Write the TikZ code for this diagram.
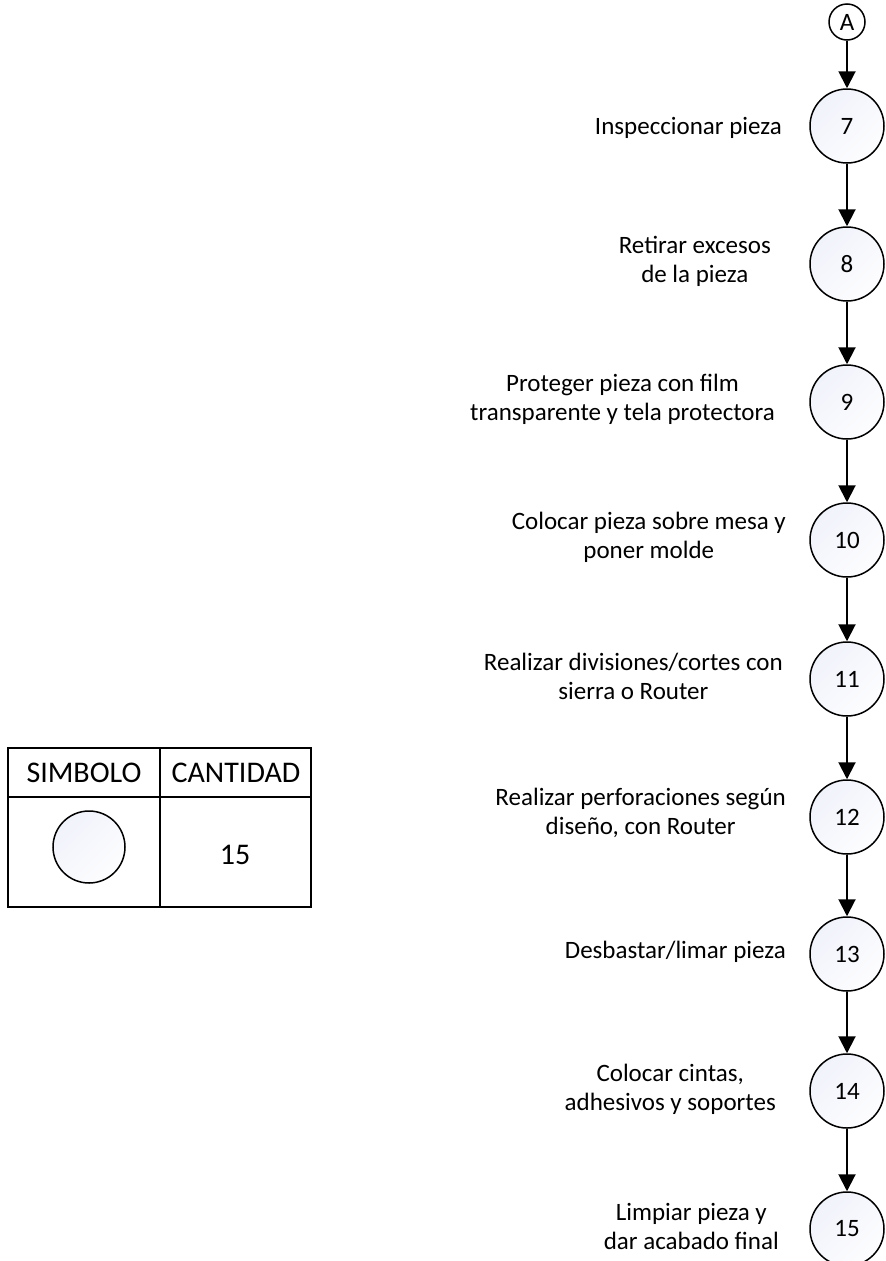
\documentclass[tikz,border=0pt]{standalone}
\usepackage{fontspec}
\setmainfont{Carlito}
\usetikzlibrary{arrows.meta,shadings}
\definecolor{opfill}{RGB}{238,240,250}
\tikzset{
  opcircle/.style={circle, draw=black, line width=1.5pt, minimum size=74pt, inner sep=0pt,
    upper left=opfill, upper right=opfill!45!white, lower left=opfill!45!white, lower right=white,
    font=\fontsize{25}{29}\selectfont},
  connector/.style={circle, draw=black, line width=1.5pt, minimum size=36pt, inner sep=0pt,
    fill=white, font=\fontsize{25}{29}\selectfont},
  steplabel/.style={anchor=east, align=center, inner sep=0pt, font=\fontsize{25}{29}\selectfont},
  flow/.style={line width=2pt, -{Triangle[width=17pt,length=17pt]}},
  tabletext/.style={font=\fontsize{30}{34}\selectfont},
  gridline/.style={line width=1.5pt}
}
\begin{document}
\begin{tikzpicture}[x=1pt,y=-1pt]
\useasboundingbox (0,0) rectangle (886,1261);

% off-page connector and operation circles
\node[connector] (cA) at (847,22) {A};
\foreach \n/\y in {7/126,8/264,9/402,10/540,11/679,12/817,13/954,14/1091,15/1229}{
  \node[opcircle] (c\n) at (847,\y) {\n};
}

% flow arrows
\draw[flow] (cA.south) -- (c7.north);
\foreach \a/\b in {7/8,8/9,9/10,10/11,11/12,12/13,13/14,14/15}{
  \draw[flow] (c\a.south) -- (c\b.north);
}

% step descriptions
\node[steplabel] (l7)  at (782,128)  {Inspeccionar pieza};
\node[steplabel] (l8)  at (771,261)  {Retirar excesos\\de la pieza};
\node[steplabel] (l9)  at (775,399)  {Proteger pieza con film\\transparente y tela protectora};
\node[steplabel] (l10) at (786,537)  {Colocar pieza sobre mesa y\\poner molde};
\node[steplabel] (l11) at (783,676)  {Realizar divisiones/cortes con\\sierra o Router};
\node[steplabel] (l12) at (786,813)  {Realizar perforaciones según\\diseño, con Router};
\node[steplabel] (l13) at (786,952)  {Desbastar/limar pieza};
\node[steplabel] (l14) at (776,1089) {Colocar cintas,\\adhesivos y soportes};
\node[steplabel] (l15) at (779,1226) {Limpiar pieza y\\dar acabado final};

% summary table
\draw[gridline] (8,748) rectangle (311,907);
\draw[gridline] (8,797) -- (311,797);
\draw[gridline] (160,748) -- (160,907);
\node[tabletext] (hsym) at (84,773) {SIMBOLO};
\node[tabletext] (hcnt) at (236,773) {CANTIDAD};
\node[opcircle, minimum size=72pt] (tsym) at (89,847) {};
\node[tabletext] (tcnt) at (235,855) {15};
\end{tikzpicture}
\end{document}
